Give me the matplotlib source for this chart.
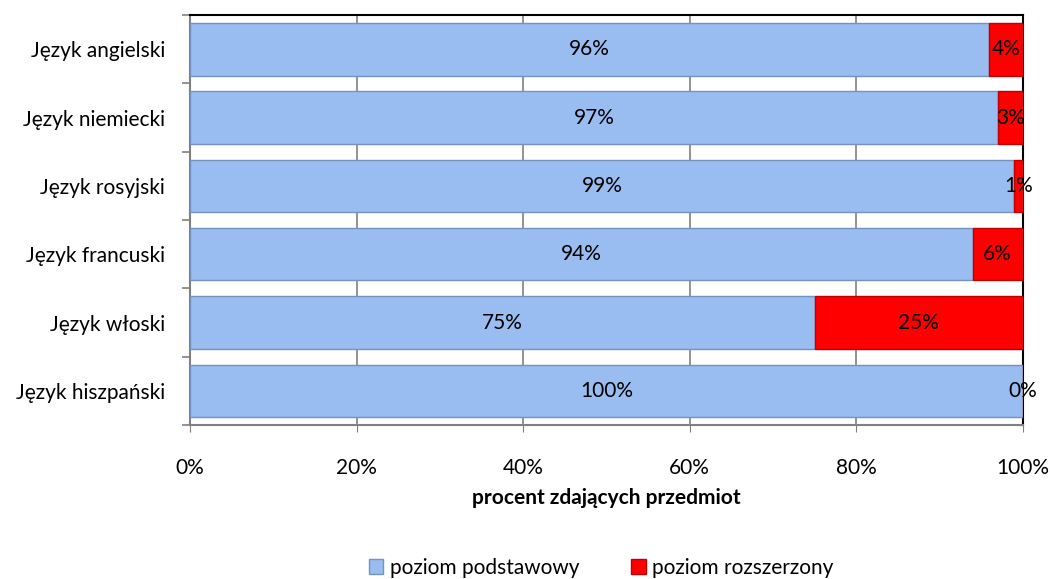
import numpy as np
import matplotlib.pyplot as plt
from matplotlib.ticker import PercentFormatter

plt.rcParams['font.family'] = ['Lato', 'DejaVu Sans']

# --- Data ---
categories = ["Język angielski", "Język niemiecki", "Język rosyjski",
              "Język francuski", "Język włoski", "Język hiszpański"]
basic = [96, 97, 99, 94, 75, 100]
extended = [4, 3, 1, 6, 25, 0]
series_names = ["poziom podstawowy", "poziom rozszerzony"]

fs = 15

fig = plt.figure(figsize=(10.51, 5.79), dpi=100)
ax = fig.add_axes([0.181, 0.266, 0.792, 0.708])

y = np.arange(len(categories))
h = 0.77
b1 = ax.barh(y, basic, height=h, color="#99BDF0", edgecolor="#7393BE", linewidth=1.0,
             label=series_names[0], zorder=3)
b2 = ax.barh(y, extended, left=basic, height=h, color="#FF0000", edgecolor="#C00000",
             linewidth=1.0, label=series_names[1], zorder=3)

for i in range(len(categories)):
    ax.text(basic[i] / 2, y[i], f"{basic[i]}%", ha="center", va="center",
            fontsize=fs, color="black", zorder=5)
    ax.text(basic[i] + extended[i] / 2, y[i], f"{extended[i]}%", ha="center", va="center",
            fontsize=fs, color="black", zorder=5)

ax.set_xlim(0, 100)
ax.set_ylim(len(categories) - 0.5, -0.5)
ax.set_xticks(np.arange(0, 101, 20))
ax.xaxis.set_major_formatter(PercentFormatter(decimals=0))
ax.set_yticks(y)
ax.set_yticklabels(categories)
ax.set_yticks(np.arange(-0.5, len(categories), 1), minor=True)
ax.tick_params(axis="y", which="major", length=0, pad=18, labelsize=fs)
ax.tick_params(axis="y", which="minor", length=6, color="#808080", width=1.2)
ax.tick_params(axis="x", length=5, color="#808080", labelsize=fs, pad=19)
ax.grid(axis="x", color="#808080", linewidth=1.2, zorder=0)

for s in ["left", "bottom"]:
    ax.spines[s].set_color("#808080")
    ax.spines[s].set_linewidth(1.5)
for s in ["top", "right"]:
    ax.spines[s].set_color("black")
    ax.spines[s].set_linewidth(1.5)

ax.set_xlabel("procent zdających przedmiot", fontsize=fs, fontweight="bold", labelpad=7)

fig.legend(handles=[b1, b2], labels=series_names, loc="lower center",
           bbox_to_anchor=(0.572, -0.03), ncol=2, frameon=False, fontsize=fs,
           handlelength=0.7, handleheight=0.7, handletextpad=0.3, columnspacing=2.5)

fig.savefig("out.png", dpi=100)
